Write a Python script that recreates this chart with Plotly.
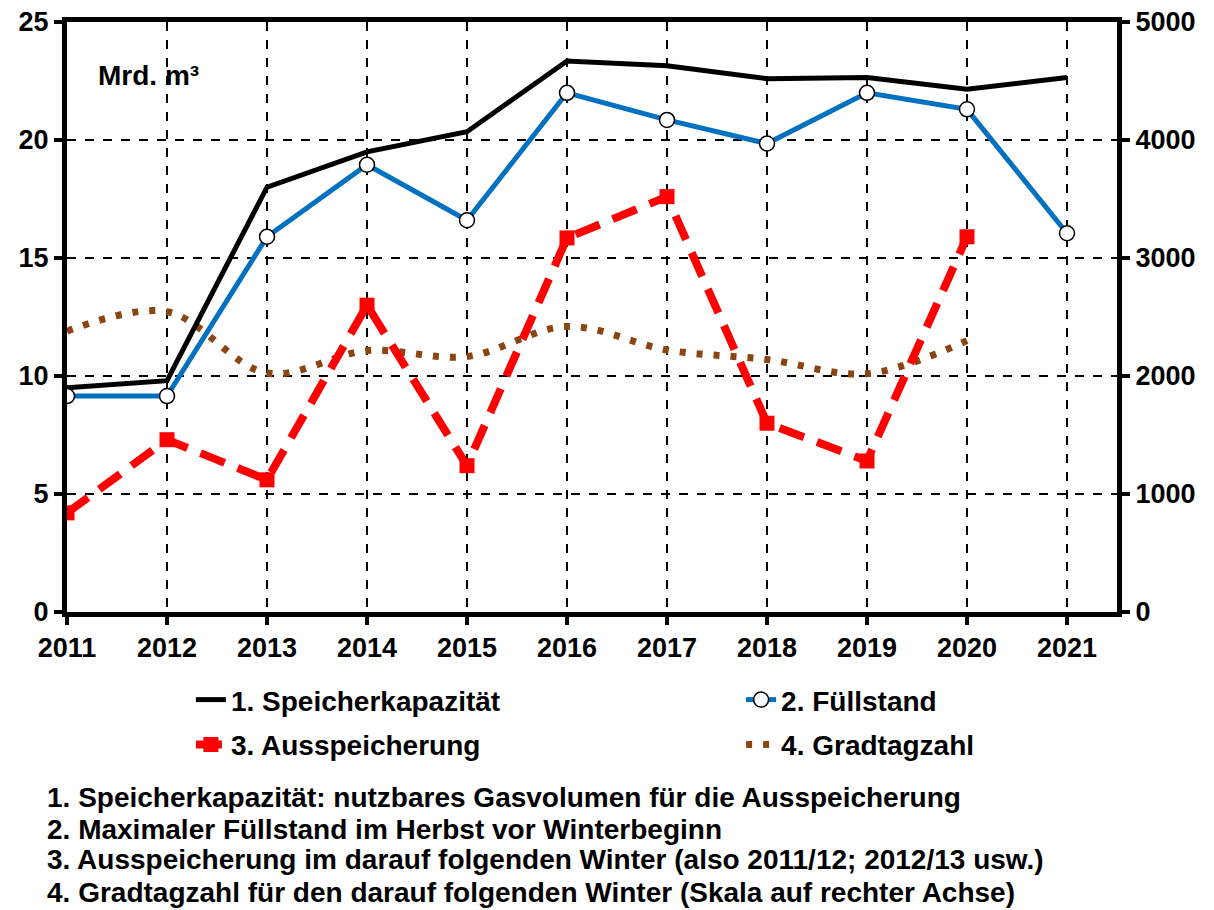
import plotly.graph_objects as go

years = [2011, 2012, 2013, 2014, 2015, 2016, 2017, 2018, 2019, 2020, 2021]
kapazitaet = [9.5, 9.8, 18.0, 19.5, 20.35, 23.35, 23.15, 22.6, 22.65, 22.15, 22.65]
fuellstand = [9.15, 9.15, 15.9, 18.95, 16.6, 22.0, 20.85, 19.85, 22.0, 21.3, 16.05]
aus_years = [2011, 2012, 2013, 2014, 2015, 2016, 2017, 2018, 2019, 2020]
ausspeicherung = [4.2, 7.3, 5.6, 13.0, 6.2, 15.85, 17.6, 8.0, 6.4, 15.9]
gtz_years = [2011, 2012, 2013, 2014, 2015, 2016, 2017, 2018, 2019, 2020]
gradtagzahl = [2380, 2545, 2025, 2215, 2165, 2420, 2220, 2140, 2020, 2300]

names = ["1. Speicherkapazität", "2. Füllstand", "3. Ausspeicherung", "4. Gradtagzahl"]
notes = [
    "1. Speicherkapazität: nutzbares Gasvolumen für die Ausspeicherung",
    "2. Maximaler Füllstand im Herbst vor Winterbeginn",
    "3. Ausspeicherung im darauf folgenden Winter (also 2011/12; 2012/13 usw.)",
    "4. Gradtagzahl für den darauf folgenden Winter (Skala auf rechter Achse)",
]

FONT = "Liberation Sans"
TFS = 27
LFS = 28

fig = go.Figure()
# base axis y = right scale (Gradtagzahl), drawn first (below other lines)
fig.add_trace(go.Scatter(
    x=gtz_years, y=gradtagzahl, name=names[3], yaxis="y", mode="lines",
    line=dict(color="#8a4513", width=7, dash="6px,11px", shape="spline", smoothing=1.0),
    legend="legend4"))
fig.add_trace(go.Scatter(
    x=years, y=kapazitaet, name=names[0], yaxis="y2", mode="lines",
    line=dict(color="black", width=5), legend="legend"))
fig.add_trace(go.Scatter(
    x=years, y=fuellstand, name=names[1], yaxis="y2", mode="lines+markers",
    line=dict(color="#0070c0", width=5),
    marker=dict(symbol="circle", size=15, color="white", line=dict(color="black", width=1.5)),
    legend="legend2"))
fig.add_trace(go.Scatter(
    x=aus_years, y=ausspeicherung, name=names[2], yaxis="y2", mode="lines+markers",
    line=dict(color="#ff0000", width=8, dash="26px,14px"),
    marker=dict(symbol="square", size=15, color="#ff0000"),
    legend="legend3"))

tickfont = dict(family=FONT, size=TFS, color="black", weight="bold")
legfont = dict(family=FONT, size=LFS, color="black", weight="bold")

def leg(x, y):
    return dict(orientation="h", x=x, xanchor="left", y=y, yanchor="middle",
                font=legfont, bgcolor="rgba(0,0,0,0)")

fig.update_layout(
    width=1206, height=902,
    margin=dict(l=59, r=97, t=14, b=298, autoexpand=False),
    paper_bgcolor="white", plot_bgcolor="white",
    font=dict(family=FONT, size=TFS, color="black", weight="bold"),
    xaxis=dict(range=[2011, 2021.5], tickvals=years, ticktext=[str(y) for y in years],
               showline=True, linecolor="black", linewidth=5, mirror=True,
               ticks="outside", ticklen=8, tickwidth=4, tickcolor="black",
               showgrid=True, gridcolor="black", gridwidth=1.5, griddash="dash",
               tickfont=tickfont, zeroline=False, automargin=False,
               ticklabeloverflow="allow"),
    yaxis=dict(range=[0, 5000], dtick=1000, side="right",
               showline=True, linecolor="black", linewidth=5,
               ticks="outside", ticklen=8, tickwidth=4, tickcolor="black",
               showgrid=True, gridcolor="black", gridwidth=1.5, griddash="dash",
               tickfont=tickfont, zeroline=False, automargin=False,
               ticklabeloverflow="allow"),
    yaxis2=dict(range=[0, 25], dtick=5, side="left", overlaying="y",
                showline=True, linecolor="black", linewidth=5,
                ticks="outside", ticklen=8, tickwidth=4, tickcolor="black",
                showgrid=False, tickfont=tickfont, zeroline=False, automargin=False,
                ticklabeloverflow="allow"),
    legend=leg(0.118, -0.149),
    legend2=leg(0.642, -0.149),
    legend3=leg(0.118, -0.225),
    legend4=leg(0.642, -0.225),
    showlegend=True,
)

fig.add_annotation(text="Mrd. m³", xref="paper", yref="paper", x=0.028, y=0.91,
                   xanchor="left", yanchor="middle", showarrow=False,
                   font=dict(family=FONT, size=LFS, weight="bold"))

note_y = [-0.3136, -0.3678, -0.4203, -0.4746]
for t, yy in zip(notes, note_y):
    fig.add_annotation(text=t, xref="paper", yref="paper", x=-0.021, y=yy,
                       xanchor="left", yanchor="middle", showarrow=False,
                       font=dict(family=FONT, size=LFS, weight="bold"))

fig.write_html("out.html")
